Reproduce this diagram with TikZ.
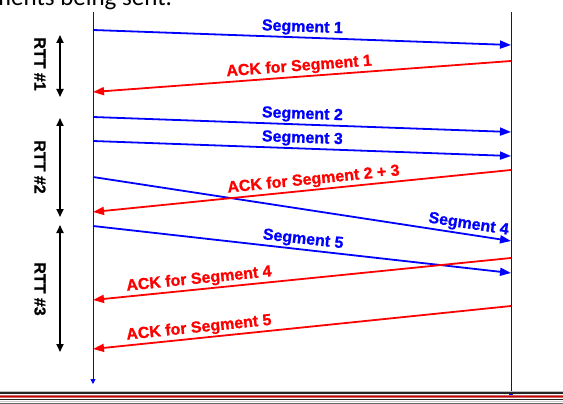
\documentclass[tikz,border=0pt]{standalone}
\usepackage{fontspec}
\setmainfont{Liberation Sans}
\newfontfamily\calib{Carlito}
\newfontfamily\lblfont[FakeBold=1]{Liberation Sans Bold}
\usetikzlibrary{arrows.meta}
\definecolor{segblue}{RGB}{0,0,255}
\definecolor{ackred}{RGB}{255,0,0}
\tikzset{
  seg/.style={draw=segblue, line width=1.8pt, -{Triangle[length=11pt,width=8pt]}},
  ack/.style={draw=ackred, line width=1.8pt, -{Triangle[length=11pt,width=8pt]}},
  timeline/.style={draw=segblue, line width=0.9pt, -{Triangle[length=5pt,width=5pt]}},
  rtt/.style={draw=black, line width=1.8pt, {Triangle[length=8pt,width=7pt]}-{Triangle[length=8pt,width=7pt]}},
  seglabel/.style={text=segblue, font=\lblfont\fontsize{16}{18}\selectfont, sloped, above, inner sep=1.5pt},
  acklabel/.style={text=ackred, font=\lblfont\fontsize{16}{18}\selectfont, sloped, above, inner sep=1.5pt},
  rttlabel/.style={text=black, font=\lblfont\fontsize{16}{18}\selectfont, rotate=-90}
}
\begin{document}
\begin{tikzpicture}[x=1pt, y=-1pt]
\fill[white] (0,0) rectangle (563,404);
\useasboundingbox (0,0) rectangle (563,404);
% top (cut-off) caption
\node[anchor=base west, inner sep=0pt, font=\calib\fontsize{25}{28}\selectfont] (cap) at (-9,6) {ments being sent.};
% timelines
\coordinate (ltop) at (93,12);
\coordinate (lbot) at (93,384);
\coordinate (rtop) at (511,12);
\coordinate (rbot) at (511,398);
\draw[timeline] (ltop) -- (lbot);
\draw[timeline] (rtop) -- (rbot);
% endpoints
\coordinate (s1a) at (93,30);  \coordinate (s1b) at (511,45);
\coordinate (a1a) at (511,61); \coordinate (a1b) at (93,92);
\coordinate (s2a) at (93,117); \coordinate (s2b) at (511,132);
\coordinate (s3a) at (93,141); \coordinate (s3b) at (511,156);
\coordinate (a2a) at (511,170);\coordinate (a2b) at (93,212);
\coordinate (s4a) at (93,177); \coordinate (s4b) at (511,241);
\coordinate (s5a) at (93,226); \coordinate (s5b) at (511,273);
\coordinate (a4a) at (511,258);\coordinate (a4b) at (93,300);
\coordinate (a5a) at (511,306);\coordinate (a5b) at (93,349);
% segments
\draw[seg] (s1a) -- node[seglabel, pos=0.5] (l1) {Segment 1} (s1b);
\draw[seg] (s2a) -- node[seglabel, pos=0.5] (l2) {Segment 2} (s2b);
\draw[seg] (s3a) -- node[seglabel, pos=0.5] (l3) {Segment 3} (s3b);
\draw[seg] (s4a) -- node[seglabel, pos=0.895] (l4) {Segment 4} (s4b);
\draw[seg] (s5a) -- node[seglabel, pos=0.5] (l5) {Segment 5} (s5b);
% acks
\draw[ack] (a1a) -- node[acklabel, pos=0.505] (k1) {ACK for Segment 1} (a1b);
\draw[ack] (a2a) -- node[acklabel, pos=0.47] (k2) {ACK for Segment 2 + 3} (a2b);
\draw[ack] (a4a) -- node[acklabel, pos=0.744] (k4) {ACK for Segment 4} (a4b);
\draw[ack] (a5a) -- node[acklabel, pos=0.744] (k5) {ACK for Segment 5} (a5b);
% RTT markers
\coordinate (r1t) at (60,35);  \coordinate (r1b) at (60,97);
\coordinate (r2t) at (60,118); \coordinate (r2b) at (60,217);
\coordinate (r3t) at (60,225); \coordinate (r3b) at (60,352);
\draw[rtt] (r1t) -- (r1b);
\draw[rtt] (r2t) -- (r2b);
\draw[rtt] (r3t) -- (r3b);
\node[rttlabel] (t1) at (40,64) {RTT \#1};
\node[rttlabel] (t2) at (40,167) {RTT \#2};
\node[rttlabel] (t3) at (40,289) {RTT \#3};
% bottom stripes
\draw[line width=1pt, gray!50] (0,391.5) -- (563,391.5);
\draw[line width=1.2pt, black!85] (0,393) -- (563,393);
\draw[line width=2.6pt, red!45!gray!80] (0,396.5) -- (563,396.5);
\draw[line width=1.2pt, red!80!black] (0,396.5) -- (563,396.5);
\draw[line width=1.2pt, black!85] (0,399.5) -- (563,399.5);
\draw[line width=1pt, gray!40] (0,401.5) -- (563,401.5);
\draw[line width=1pt, black!60] (0,403.3) -- (563,403.3);
\end{tikzpicture}
\end{document}
